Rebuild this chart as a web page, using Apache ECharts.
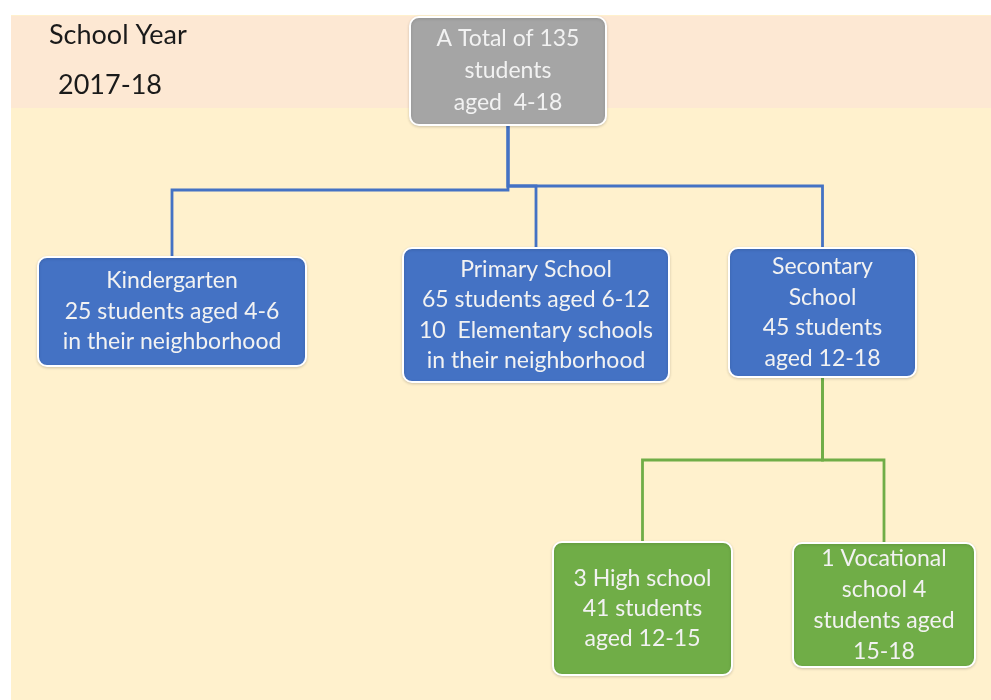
<!DOCTYPE html>
<html>
<head>
<meta charset="utf-8">
<title>School Year 2017-18</title>
<script src="https://cdn.jsdelivr.net/npm/echarts@6/dist/echarts.min.js"></script>
<style>
  html, body { margin: 0; padding: 0; background: #fff; }
  #chart { width: 991px; height: 700px; }
</style>
</head>
<body>
<div id="chart"></div>
<script>
// data: the nodes of the chart and who they hang under
const nodeLabels = [
  "A Total of 135\nstudents\naged  4-18",
  "Kindergarten\n25 students aged 4-6\nin their neighborhood",
  "Primary School\n65 students aged 6-12\n10  Elementary schools\nin their neighborhood",
  "Secontary\nSchool\n45 students\naged 12-18",
  "3 High school\n41 students\naged 12-15",
  "1 Vocational\nschool 4\nstudents aged\n15-18"
];
const nodeParent = [-1, 0, 0, 0, 3, 3];
const nodeLevel = [0, 1, 1, 1, 2, 2];

// layout (pixels of the 991x700 canvas), kept apart from the data
const boxX = [508, 172, 536, 822.5, 642.5, 884];
const boxY = [71, 311.5, 315, 312.5, 608.5, 605];
const boxW = [196, 268, 266, 187, 179, 182];
const boxH = [108, 109, 134, 129, 133, 124];
const busY = [0, 190, 186, 186, 460, 460];
const lineHeights = [32, 30.5, 30.5, 30.5, 30, 31];

// styles
const levelFill = ["#a5a5a5", "#4472c4", "#70ad47"];
const edgeColor = ["#4472c4", "#4472c4", "#70ad47"];
const FONT = "Lato";

const chart = echarts.init(document.getElementById("chart"));

const boxData = nodeLabels.map((t, i) => ({ name: t, value: [boxX[i], boxY[i]] }));
const edgeData = [];
for (let i = 0; i < nodeParent.length; i++) {
  if (nodeParent[i] >= 0) edgeData.push({ value: [boxX[i], boxY[i], i] });
}

const option = {
  backgroundColor: "#ffffff",
  animation: false,
  grid: { left: 0, right: 0, top: 0, bottom: 0 },
  xAxis: { type: "value", min: 0, max: 991, show: false },
  yAxis: { type: "value", min: 0, max: 700, inverse: true, show: false },
  title: [
    {
      text: "School Year",
      left: 44,
      top: 17,
      textStyle: { fontFamily: FONT, fontSize: 27, fontWeight: "normal", color: "#1a1a1a" }
    },
    {
      text: "2017-18",
      left: 53,
      top: 67,
      textStyle: { fontFamily: FONT, fontSize: 27, fontWeight: "normal", color: "#1a1a1a" }
    }
  ],
  graphic: [
    { type: "rect", z: -10, silent: true, shape: { x: 11, y: 15, width: 980, height: 685 }, style: { fill: "#fff1cd" } },
    { type: "rect", z: -9, silent: true, shape: { x: 11, y: 16, width: 980, height: 92 }, style: { fill: "#fde8d3" } }
  ],
  series: [
    {
      // elbow connectors: parent bottom -> bus -> child top
      type: "custom",
      coordinateSystem: "cartesian2d",
      data: edgeData,
      z: 1,
      renderItem: function (params, api) {
        const i = api.value(2);
        const p = nodeParent[i];
        const a = api.coord([boxX[p], boxY[p] + boxH[p] / 2]);
        const b = api.coord([boxX[p], busY[i]]);
        const c = api.coord([api.value(0), busY[i]]);
        const d = api.coord([api.value(0), api.value(1) - boxH[i] / 2]);
        return {
          type: "polyline",
          shape: { points: [a, b, c, d] },
          style: { stroke: edgeColor[nodeLevel[i]], lineWidth: 2.8, fill: null }
        };
      }
    },
    {
      type: "custom",
      coordinateSystem: "cartesian2d",
      data: boxData,
      z: 2,
      renderItem: function (params, api) {
        const i = params.dataIndex;
        const c = api.coord([api.value(0), api.value(1)]);
        const w = boxW[i], h = boxH[i];
        return {
          type: "group",
          children: [
            {
              type: "rect",
              shape: { x: c[0] - w / 2, y: c[1] - h / 2, width: w, height: h, r: 9 },
              style: {
                fill: levelFill[nodeLevel[i]],
                stroke: "#ffffff",
                lineWidth: 2,
                shadowBlur: 3,
                shadowColor: "rgba(0,0,0,0.15)",
                shadowOffsetY: 1
              }
            },
            {
              type: "text",
              x: c[0],
              y: c[1],
              style: {
                text: nodeLabels[i],
                fill: "#f2f2f2",
                fontFamily: FONT,
                fontSize: 23,
                lineHeight: lineHeights[i],
                align: "center",
                verticalAlign: "middle"
              }
            }
          ]
        };
      }
    }
  ]
};

chart.setOption(option);
</script>
</body>
</html>
